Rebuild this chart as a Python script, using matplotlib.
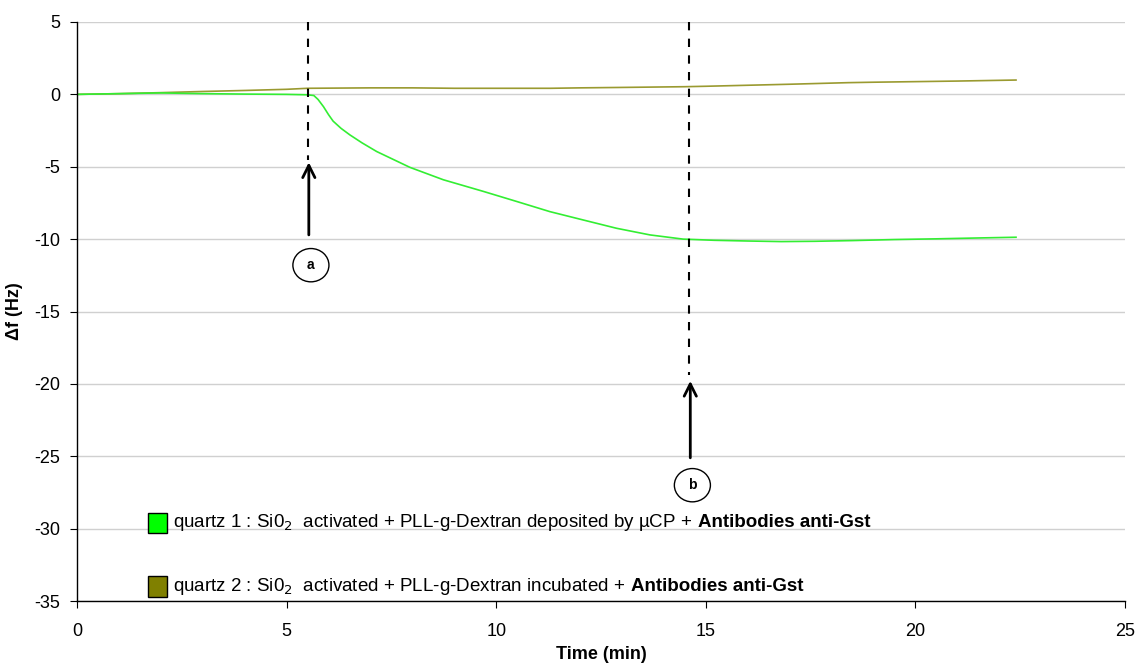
import matplotlib.pyplot as plt
import numpy as np
from matplotlib.patches import Rectangle, Ellipse

# quartz 1 (green) : deposited by uCP
t1 = [0, 1, 2, 3, 4, 5, 5.5, 5.65, 5.75, 5.88, 6.0, 6.11, 6.3, 6.51, 6.8, 7.15, 7.94, 8.74, 9.69, 10.49, 11.28, 12.08, 12.87, 13.67, 14.46,
      15.2, 16, 16.8, 17.6, 18.5, 19.5, 20.5, 21.5, 22.4]
f1 = [0, 0.05, 0.1, 0.05, 0.02, 0.0, -0.03, -0.08, -0.35, -0.85, -1.4, -1.85, -2.35, -2.8, -3.35, -3.95, -5.04, -5.9, -6.7, -7.4, -8.1, -8.68, -9.25, -9.71, -10.0,
      -10.08, -10.13, -10.17, -10.15, -10.1, -10.03, -9.98, -9.92, -9.87]
# quartz 2 (olive) : incubated
t2 = [0, 1, 2, 3, 4, 5, 5.5, 7, 8, 9, 10, 11.3, 12, 13, 14.5, 15, 16, 17, 18.4, 19, 20, 21, 22, 22.4]
f2 = [0, 0.05, 0.12, 0.2, 0.27, 0.35, 0.42, 0.45, 0.45, 0.42, 0.42, 0.42, 0.45, 0.48, 0.53, 0.56, 0.63, 0.7, 0.81, 0.84, 0.88, 0.92, 0.97, 0.99]

events = [5.5, 14.6]
event_labels = ['a', 'b']
dash_bottom = [-4.5, -19.4]
arrow_from = [-9.9, -25.3]
arrow_to = [-4.5, -19.6]
circle_y = [-11.8, -27.0]

legend_labels = [
    ('quartz 1 : Si0$_2$  activated + PLL-g-Dextran deposited by \u00b5CP +', 'Antibodies anti-Gst'),
    ('quartz 2 : Si0$_2$  activated + PLL-g-Dextran incubated +', 'Antibodies anti-Gst'),
]
legend_colors = ['#00ff00', '#808000']
legend_y = [-29.6, -34.0]

plt.rcParams['font.family'] = ['Liberation Sans', 'DejaVu Sans']
plt.rcParams['axes.unicode_minus'] = False

fig = plt.figure(figsize=(11.35, 6.63), dpi=100)
ax = fig.add_axes([77 / 1135, 1 - 601 / 663, 1048 / 1135, 579 / 663])

ax.set_xlim(0, 25)
ax.set_ylim(-35, 5)
ax.set_xticks(np.arange(0, 26, 5))
ax.set_yticks(np.arange(-35, 6, 5))
ax.yaxis.grid(True, color='#d0d0d0', linewidth=1)
ax.set_axisbelow(True)
for s in ['top', 'right']:
    ax.spines[s].set_visible(False)
ax.spines['left'].set_linewidth(1)
ax.spines['bottom'].set_linewidth(1)
ax.tick_params(labelsize=13, length=5, pad=7)
ax.tick_params(axis='x', pad=11)

ax.plot(t2, f2, color='#9a9a30', linewidth=1.2)
ax.plot(t1, f1, color='#33ee33', linewidth=1.2)

for x, lab, yb, ya, yt, yc in zip(events, event_labels, dash_bottom, arrow_from, arrow_to, circle_y):
    ax.plot([x, x], [5, yb], color='black', linestyle=(0, (4, 4)), linewidth=1.5)
    ax.annotate('', xy=(x + 0.03, yt), xytext=(x + 0.03, ya),
                arrowprops=dict(arrowstyle='->', color='black', lw=2, mutation_scale=22))
    ax.add_patch(Ellipse((x + 0.08, yc), 0.86, 2.3, facecolor='white', edgecolor='black', linewidth=1))
    ax.text(x + 0.08, yc, lab, ha='center', va='center', fontsize=10, fontweight='bold')

for (txt, btxt), c, y in zip(legend_labels, legend_colors, legend_y):
    ax.add_patch(Rectangle((1.7, y - 0.7), 0.45, 1.4, facecolor=c, edgecolor='black', linewidth=1, clip_on=False))
    t = ax.text(2.3, y, txt, ha='left', va='center', fontsize=13.5)
    fig.canvas.draw()
    bb = t.get_window_extent().transformed(ax.transData.inverted())
    ax.text(bb.x1 + 0.12, y, btxt, ha='left', va='center', fontsize=13.5, fontweight='bold')

ax.set_xlabel('Time (min)', fontsize=13, fontweight='bold')
ax.xaxis.set_label_coords(0.5, -0.078)
ax.set_ylabel('\u0394f (Hz)', fontsize=13, fontweight='bold', labelpad=8)

fig.savefig('out.png', dpi=100)
